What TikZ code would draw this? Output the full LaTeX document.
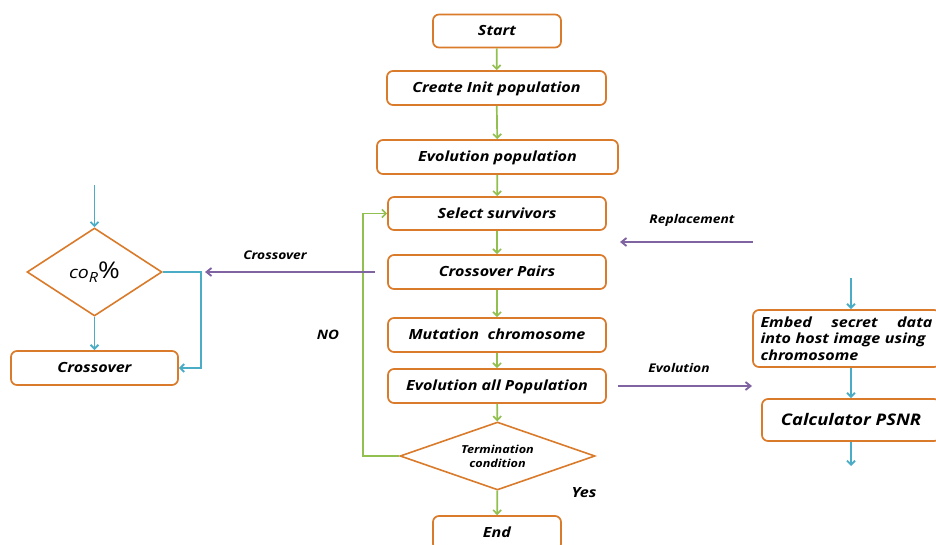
\documentclass[tikz,border=0pt]{standalone}
\usepackage{fontspec}
\setmainfont[FakeStretch=1.15]{Open Sans}
\usetikzlibrary{shapes.geometric,arrows.meta}
\definecolor{boxorange}{HTML}{D97B2B}
\definecolor{flowgreen}{HTML}{92C050}
\definecolor{flowblue}{HTML}{4BACC6}
\definecolor{flowpurple}{HTML}{8064A2}
\tikzset{
  stepbox/.style={draw=boxorange, line width=1.7pt, rounded corners=6pt, fill=white,
    inner sep=0pt, font=\bfseries\itshape\fontsize{14}{16}\selectfont},
  linebox/.style={stepbox, text depth=1pt},
  decide/.style={draw=boxorange, line width=1.6pt, diamond, fill=white, inner sep=0pt,
    align=center},
  garrow/.style={draw=flowgreen, line width=1.7pt, -{Straight Barb[length=4pt,width=8pt]}},
  barrow/.style={draw=flowblue, line width=1.9pt, -{Straight Barb[length=4pt,width=8pt]}},
  parrow/.style={draw=flowpurple, line width=1.9pt, -{Straight Barb[length=5pt,width=8pt]}},
  lbl/.style={font=\bfseries\itshape\fontsize{12}{14}\selectfont, inner sep=1pt},
}
\begin{document}
\begin{tikzpicture}[x=1pt,y=-1pt]
\useasboundingbox (0,0) rectangle (936,545);

% main loop
\node[linebox, minimum width=128pt, minimum height=33pt] (start) at (497,31) {Start};
\node[linebox, minimum width=219pt, minimum height=34pt] (init) at (496.5,88) {Create Init population};
\node[linebox, minimum width=241pt, minimum height=34pt] (evo) at (497.5,157) {Evolution population};
\node[linebox, minimum width=218pt, minimum height=33pt] (sel) at (497,213.5) {Select survivors};
\node[linebox, minimum width=218pt, minimum height=34pt] (cp) at (497,272) {Crossover Pairs};
\node[linebox, minimum width=218pt, minimum height=34pt] (mut) at (497,335) {Mutation\ \ chromosome};
\node[linebox, minimum width=218pt, minimum height=34pt] (all) at (497,386) {Evolution all Population};
\node[decide, minimum width=195pt, minimum height=68pt, aspect=2.9,
      font=\bfseries\itshape\fontsize{11}{14}\selectfont] (term) at (497.5,456) {Termination\\condition};
\node[linebox, minimum width=128pt, minimum height=34pt] (end) at (497,533) {End};

\draw[garrow] (start) -- (init);
\draw[garrow] (init) -- (evo);
\draw[garrow] (evo) -- (sel);
\draw[garrow] (sel) -- (cp);
\draw[garrow] (cp) -- (mut);
\draw[garrow] (mut) -- (all);
\draw[garrow] (all) -- (term);
\draw[garrow] (term) -- (end);
\coordinate (fb) at (363,300);
\draw[garrow] (term.west) -- (term.west -| fb) |- (sel.west);

\node[lbl, font=\bfseries\itshape\fontsize{13}{15}\selectfont] (no) at (328,335) {NO};
\node[lbl, font=\bfseries\itshape\fontsize{14}{16}\selectfont] (yes) at (584,493) {Yes};

% crossover branch
\coordinate (cxs) at (375,272);
\coordinate (cxe) at (205,272);
\draw[parrow] (cxs) -- (cxe);
\node[lbl] (cxl) at (275,255) {Crossover};

\node[decide, minimum width=135pt, minimum height=88pt, aspect=1.53] (cor) at (94.5,272)
  {\itshape\fontsize{17}{18}\selectfont co\raisebox{-4pt}{\fontsize{14}{15}\selectfont R}\upshape\fontsize{23}{24}\selectfont\%};
\node[linebox, minimum width=167pt, minimum height=34pt] (cross) at (94.5,368) {Crossover};
\coordinate (corin) at (94.5,185);
\coordinate (corside) at (201,300);
\draw[barrow] (corin) -- (cor.north);
\draw[barrow] (cor.south) -- (cross.north);
\draw[barrow] (cor.east) -- (cor.east -| corside) |- (cross.east);

% replacement
\coordinate (rps) at (753,242);
\coordinate (rpe) at (620,242);
\draw[parrow] (rps) -- (rpe);
\node[lbl] (rpl) at (692,220) {Replacement};

% evaluation branch
\coordinate (evs) at (618,386);
\coordinate (eve) at (752,386);
\draw[parrow] (evs) -- (eve);
\node[lbl] (evl) at (679,368) {Evolution};

\node[stepbox, minimum width=187pt, minimum height=57pt, text width=172pt, align=left,
      font=\bfseries\itshape\fontsize{14}{16.5}\selectfont] (embed) at (846.5,338.5)
  {\makebox[172pt][l]{Embed\hfill secret\hfill data}\\into host image using\\chromosome};
\node[linebox, minimum width=178pt, minimum height=42pt,
      font=\bfseries\itshape\fontsize{16}{18}\selectfont] (psnr) at (851,420) {Calculator PSNR};
\coordinate (embin) at (851,278);
\coordinate (psout) at (851,466);
\draw[barrow] (embin) -- (embin |- embed.north);
\draw[barrow] (embed.south -| psnr) -- (psnr.north);
\draw[barrow] (psnr.south) -- (psout);
\end{tikzpicture}
\end{document}
